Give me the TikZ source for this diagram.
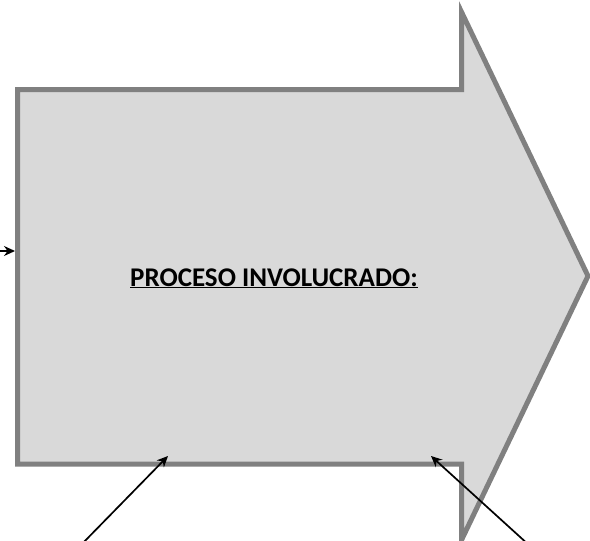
\documentclass[tikz,border=0pt]{standalone}
\usepackage{fontspec}
\setmainfont{Carlito}
\usetikzlibrary{arrows.meta}
\definecolor{boxfill}{HTML}{D9D9D9}
\definecolor{boxline}{HTML}{808080}
\tikzset{
  bigarrow/.style={fill=boxfill, draw=boxline, line width=5pt, line join=miter},
  pointer/.style={draw=black, line width=1.7pt, -{Stealth[length=11pt,width=10pt]}},
  title/.style={font=\bfseries\fontsize{27}{30}\selectfont, inner sep=0pt}
}
\begin{document}
\begin{tikzpicture}[x=1pt,y=-1pt]
\useasboundingbox (0,0) rectangle (590,541);
\draw[bigarrow] (17.5,89.5) -- (461.5,89.5) -- (461.5,12) -- (588,276) -- (461.5,540) -- (461.5,464) -- (17.5,464) -- cycle;
\node[title, anchor=base] (t) at (274,286) {\underline{PROCESO INVOLUCRADO:}};
\coordinate (l0) at (-2,251);
\coordinate (l1) at (15,251);
\coordinate (b0) at (80,546);
\coordinate (b1) at (168,456);
\coordinate (c0) at (530,546);
\coordinate (c1) at (431,456);
\draw[pointer] (l0) -- (l1);
\draw[pointer] (b0) -- (b1);
\draw[pointer] (c0) -- (c1);
\end{tikzpicture}
\end{document}
